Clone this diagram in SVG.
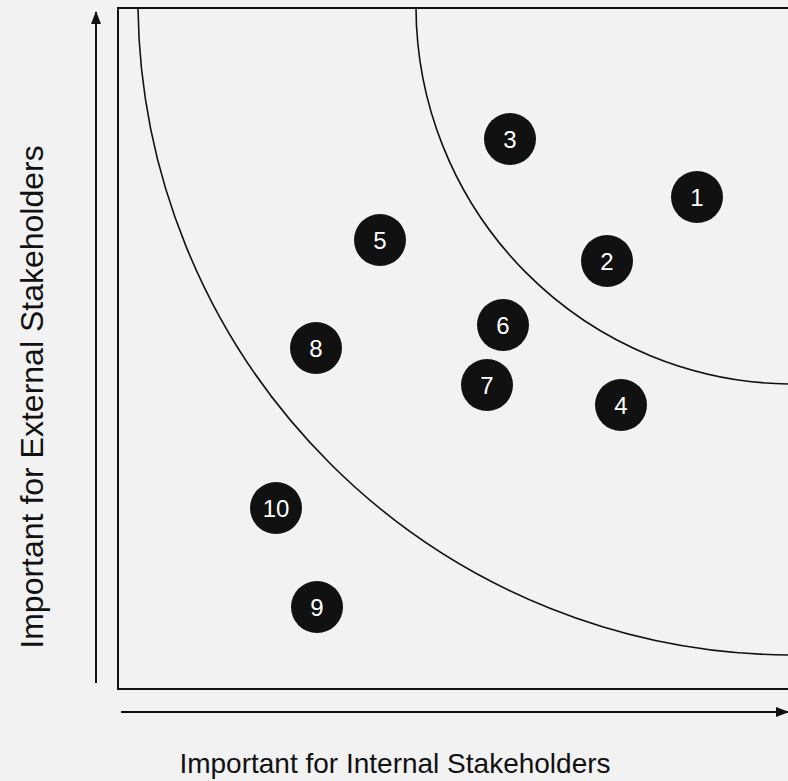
<svg xmlns="http://www.w3.org/2000/svg" width="788" height="781" viewBox="0 0 788 781">
  <style>
    .frame { fill: none; stroke: #111; stroke-width: 2; }
    .ring { fill: none; stroke: #111; stroke-width: 1.6; }
    .axis { fill: none; stroke: #111; stroke-width: 2; }
    .dot circle { fill: #111; }
    .dot text { fill: #fff; font-family: "Liberation Sans", Arial, sans-serif; font-size: 24px; text-anchor: middle; dominant-baseline: central; }
    .label { fill: #111; font-family: "Liberation Sans", Arial, sans-serif; text-anchor: middle; }
  </style>
  <defs>
    <marker id="head" viewBox="0 0 13 10" refX="12" refY="5" markerWidth="6.5" markerHeight="5" orient="auto" markerUnits="strokeWidth">
      <path d="M0,0 L13,5 L0,10 Z" fill="#111"/>
    </marker>
  </defs>

  <rect width="788" height="781" fill="#f2f2f2"/>

  <g id="connectors">
    <!-- plot frame, open on the right -->
    <path class="frame" d="M790,8 H118 V689 H790"/>
    <!-- priority bands -->
    <path class="ring" d="M138,8 A655 655 0 0 0 788,655"/>
    <path class="ring" d="M416,8 A378 378 0 0 0 788,384"/>
    <!-- axes -->
    <line class="axis" x1="96" y1="683" x2="96" y2="12" marker-end="url(#head)"/>
    <line class="axis" x1="121" y1="712" x2="788" y2="712" marker-end="url(#head)"/>
  </g>

  <text class="label" font-size="32" transform="translate(43,397) rotate(-90)">Important for External Stakeholders</text>
  <text class="label" font-size="28" x="395" y="773">Important for Internal Stakeholders</text>

  <g id="n1" class="dot"><circle cx="697" cy="197" r="26"/><text x="697" y="197">1</text></g>
  <g id="n2" class="dot"><circle cx="607" cy="261" r="26"/><text x="607" y="261">2</text></g>
  <g id="n3" class="dot"><circle cx="510" cy="139" r="26"/><text x="510" y="139">3</text></g>
  <g id="n4" class="dot"><circle cx="621" cy="405" r="26"/><text x="621" y="405">4</text></g>
  <g id="n5" class="dot"><circle cx="380" cy="240" r="26"/><text x="380" y="240">5</text></g>
  <g id="n6" class="dot"><circle cx="503" cy="325" r="26"/><text x="503" y="325">6</text></g>
  <g id="n7" class="dot"><circle cx="487" cy="385" r="26"/><text x="487" y="385">7</text></g>
  <g id="n8" class="dot"><circle cx="316" cy="348" r="26"/><text x="316" y="348">8</text></g>
  <g id="n9" class="dot"><circle cx="317" cy="607" r="26"/><text x="317" y="607">9</text></g>
  <g id="n10" class="dot"><circle cx="276" cy="508" r="26"/><text x="276" y="508">10</text></g>
</svg>
